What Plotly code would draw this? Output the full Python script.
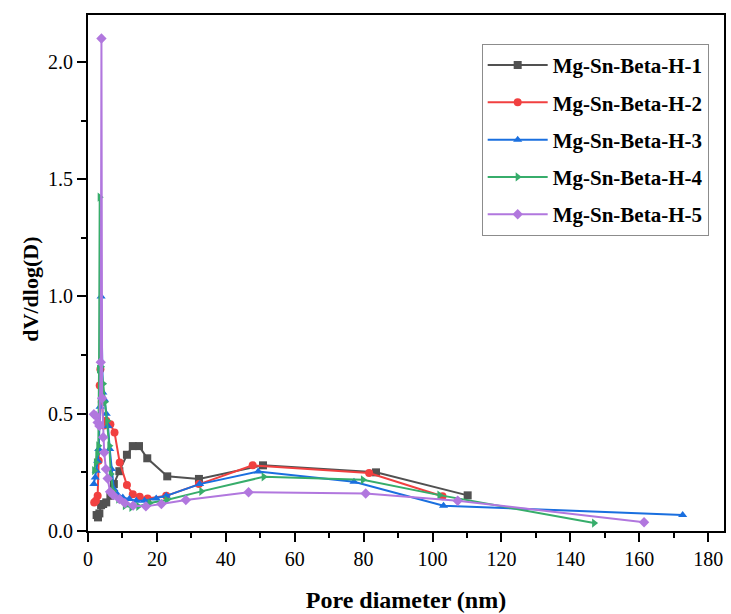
import plotly.graph_objects as go

# Pore size distributions (BJH, dV/dlog(D)) for the five Mg-Sn-Beta-H samples
names = ["Mg-Sn-Beta-H-1", "Mg-Sn-Beta-H-2", "Mg-Sn-Beta-H-3", "Mg-Sn-Beta-H-4", "Mg-Sn-Beta-H-5"]

h1_d = [2.5, 2.9, 3.3, 3.8, 4.4, 5.3, 6.5, 7.5, 9.1, 11.3, 13.0, 14.8, 17.2, 23.0, 32.2, 50.8, 83.6, 110.2]
h1_v = [0.068, 0.058, 0.075, 0.11, 0.115, 0.122, 0.15, 0.2, 0.255, 0.325, 0.362, 0.362, 0.31, 0.233, 0.222, 0.28, 0.25, 0.152]

h2_d = [1.8, 2.3, 2.8, 3.1, 3.4, 3.6, 4.0, 4.6, 5.3, 6.5, 7.7, 9.2, 11.3, 13.0, 15.0, 17.3, 22.7, 32.2, 47.8, 81.6, 102.9]
h2_v = [0.122, 0.129, 0.15, 0.30, 0.62, 0.69, 0.55, 0.45, 0.47, 0.455, 0.42, 0.292, 0.196, 0.157, 0.146, 0.139, 0.15, 0.2, 0.28, 0.247, 0.148]

h3_d = [1.7, 2.1, 2.4, 2.8, 3.1, 3.5, 3.8, 4.3, 4.8, 5.3, 5.8, 6.3, 6.8, 7.5, 8.5, 10.1, 12.0, 14.0, 16.4, 19.8, 22.7, 32.4, 49.4, 77.2, 103.2, 172.6]
h3_v = [0.2, 0.228, 0.257, 0.3, 0.35, 0.53, 1.0, 0.59, 0.56, 0.5, 0.448, 0.35, 0.264, 0.179, 0.157, 0.143, 0.136, 0.129, 0.129, 0.139, 0.15, 0.2, 0.254, 0.21, 0.108, 0.068]

h4_d = [1.8, 2.3, 2.7, 3.0, 3.2, 3.4, 3.8, 4.4, 4.9, 5.6, 6.2, 6.6, 7.3, 8.8, 10.7, 12.6, 14.6, 17.9, 22.8, 32.9, 51.0, 79.8, 102.0, 146.9]
h4_v = [0.257, 0.292, 0.33, 0.363, 0.69, 1.423, 0.70, 0.628, 0.55, 0.47, 0.363, 0.243, 0.171, 0.136, 0.108, 0.101, 0.105, 0.119, 0.132, 0.169, 0.231, 0.218, 0.153, 0.034]

h5_d = [1.7, 2.3, 2.8, 3.3, 3.7, 3.9, 4.1, 4.4, 4.7, 5.2, 5.7, 6.4, 7.3, 9.1, 10.7, 13.1, 16.8, 21.3, 28.4, 46.6, 80.6, 107.3, 161.4]
h5_v = [0.498, 0.49, 0.463, 0.448, 0.72, 2.10, 0.566, 0.4, 0.335, 0.264, 0.224, 0.167, 0.153, 0.136, 0.119, 0.108, 0.105, 0.115, 0.132, 0.165, 0.16, 0.129, 0.037]

series_d = [h1_d, h2_d, h3_d, h4_d, h5_d]
series_v = [h1_v, h2_v, h3_v, h4_v, h5_v]

colors = ["#515151", "#F14040", "#1A6FDF", "#37AD6B", "#B177DE"]
symbols = ["square", "circle", "triangle-up", "triangle-right", "diamond"]

x_ticks = list(range(0, 181, 20))
y_ticks = [0.0, 0.5, 1.0, 1.5, 2.0]

serif = "Liberation Serif, Times New Roman, serif"

fig = go.Figure()
for i, (name, d, v) in enumerate(zip(names, series_d, series_v)):
    fig.add_trace(go.Scatter(
        x=d, y=v, name=name, mode="lines+markers",
        legendgroup=name,
        line=dict(color=colors[i], width=2),
        marker=dict(symbol=symbols[i], size=8, color=colors[i]),
    ))

axis_common = dict(
    showline=True, linecolor="black", linewidth=2, mirror=True,
    ticks="outside", ticklen=9, tickwidth=2, tickcolor="black",
    showgrid=False, zeroline=False,
    tickfont=dict(family=serif, size=20, color="black"),
)

fig.update_layout(
    width=731, height=614,
    margin=dict(l=88, r=5, t=15, b=82),
    paper_bgcolor="white", plot_bgcolor="white",
    showlegend=True,
    legend=dict(
        x=0.619, y=0.944, xanchor="left", yanchor="top",
        bordercolor="#8c8c8c", borderwidth=1, bgcolor="white",
        font=dict(family=serif, size=21, color="black", weight="bold"),
        tracegroupgap=7, itemwidth=60,
        traceorder="grouped",
    ),
    xaxis=dict(
        range=[0, 184.6], tickvals=x_ticks, ticktext=[str(t) for t in x_ticks],
        minor=dict(dtick=10, tick0=0, ticks="outside", ticklen=5, tickwidth=2, tickcolor="black"),
        title=dict(text="Pore diameter (nm)", standoff=22,
                   font=dict(family=serif, size=24, color="black", weight="bold")),
        **axis_common,
    ),
    yaxis=dict(
        range=[0, 2.2], tickvals=y_ticks, ticktext=[f"{t:.1f}" for t in y_ticks],
        minor=dict(dtick=0.25, tick0=0, ticks="outside", ticklen=5, tickwidth=2, tickcolor="black"),
        **axis_common,
    ),
    annotations=[dict(
        text="dV/dlog(D)", textangle=-90, showarrow=False,
        xref="paper", yref="paper", x=-0.091, y=0.468,
        xanchor="center", yanchor="middle",
        font=dict(family=serif, size=22, color="black", weight="bold"),
    )],
)

fig.write_html("out.html")
